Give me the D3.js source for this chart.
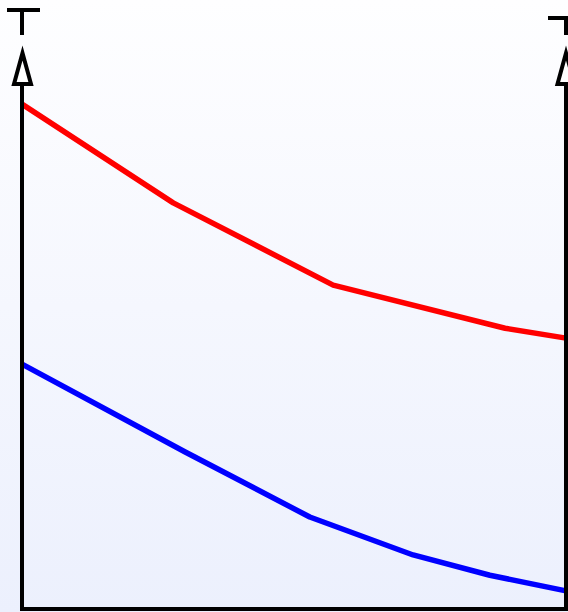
<!DOCTYPE html>
<html>
<head>
<meta charset="utf-8">
<script src="https://cdn.jsdelivr.net/npm/d3@7"></script>
<style>
  html, body { margin: 0; padding: 0; background: #ffffff; }
  svg { display: block; }
</style>
</head>
<body>
<script>
var width = 568;
var height = 612;

// series values (x and y in 0..100 units)
var redX  = [0, 27.8, 57.2, 88.8, 100];
var redY  = [96.9, 77.9, 62.1, 53.8, 51.9];
var blueX = [0, 30, 52.9, 71.9, 86, 100];
var blueY = [46.9, 30, 17.5, 10.2, 6.3, 3.3];

var xLeft = 22, xRight = 566;
var yBottom = 608, yTop = 88;

var xScale = d3.scaleLinear().domain([0, 100]).range([xLeft, xRight]);
var yScale = d3.scaleLinear().domain([0, 100]).range([yBottom, yTop]);

var svg = d3.select("body").append("svg")
    .attr("width", width)
    .attr("height", height);

var grad = svg.append("defs").append("linearGradient")
    .attr("id", "bg")
    .attr("x1", 0).attr("y1", 0)
    .attr("x2", 0).attr("y2", 1);
grad.append("stop").attr("offset", "0%").attr("stop-color", "#fefeff");
grad.append("stop").attr("offset", "100%").attr("stop-color", "#ecf0fd");

svg.append("rect")
    .attr("width", width)
    .attr("height", height)
    .attr("fill", "url(#bg)");

function series(xs, ys) {
    return xs.map(function(x, i) { return {x: x, y: ys[i]}; });
}

var line = d3.line()
    .x(function(d) { return xScale(d.x); })
    .y(function(d) { return yScale(d.y); });

svg.append("path")
    .datum(series(redX, redY))
    .attr("d", line)
    .attr("fill", "none")
    .attr("stroke", "#ff0000")
    .attr("stroke-width", 5.5)
    .attr("stroke-linejoin", "round");

svg.append("path")
    .datum(series(blueX, blueY))
    .attr("d", line)
    .attr("fill", "none")
    .attr("stroke", "#0000ff")
    .attr("stroke-width", 5.5)
    .attr("stroke-linejoin", "round");

// axes: left, right and bottom lines with arrow heads and end caps
var axes = svg.append("g")
    .attr("stroke", "#000")
    .attr("stroke-width", 4)
    .attr("fill", "none");

axes.append("line")
    .attr("x1", xLeft).attr("x2", xLeft)
    .attr("y1", 84).attr("y2", yBottom + 2);
axes.append("line")
    .attr("x1", xRight).attr("x2", xRight)
    .attr("y1", 84).attr("y2", yBottom + 2);
axes.append("line")
    .attr("x1", xLeft - 2).attr("x2", xRight + 2)
    .attr("y1", yBottom + 1).attr("y2", yBottom + 1);

function arrow(cx) {
    axes.append("path")
        .attr("d", "M" + cx + ",53 L" + (cx - 8.5) + ",84 L" + (cx + 8.5) + ",84 Z")
        .attr("fill", "#fff")
        .attr("stroke-linejoin", "miter");
}
arrow(xLeft + 0.5);
arrow(xRight);

// end caps above the arrows
axes.append("path")
    .attr("d", "M7,10 H40 M22,10 V35");
axes.append("path")
    .attr("d", "M548,18 H584 M566,18 V35");
</script>
</body>
</html>
